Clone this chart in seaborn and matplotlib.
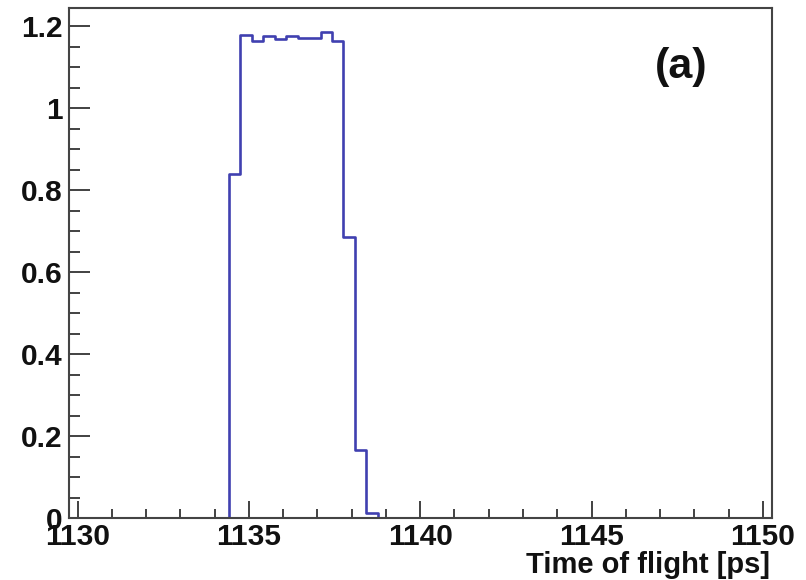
import numpy as np
import pandas as pd
import matplotlib
matplotlib.use("Agg")
import matplotlib.pyplot as plt
import seaborn as sns
from matplotlib.ticker import MultipleLocator, FuncFormatter

# bin edges (ps); a hair-thin empty bin at each end
# makes the outline drop to zero like the ROOT histogram does
tof_edges = [1134.41, 1134.42, 1134.75, 1135.09, 1135.42, 1135.76, 1136.09,
             1136.43, 1136.76, 1137.09, 1137.43, 1137.76, 1138.10, 1138.43,
             1138.77, 1138.78]
tof_counts = [0.840, 1.178, 1.164, 1.176, 1.168, 1.176, 1.170, 1.172,
              1.186, 1.164, 0.685, 0.165, 0.012]

x_ticks = [1130, 1135, 1140, 1145, 1150]
y_ticks = [0, 0.2, 0.4, 0.6, 0.8, 1.0, 1.2]

sns.set_style("ticks")
plt.rcParams["font.family"] = ["Liberation Sans", "DejaVu Sans"]
plt.rcParams["font.weight"] = "bold"

fig = plt.figure(figsize=(8.06, 5.8), dpi=100)
ax = fig.add_axes([0.0856, 0.1069, 0.958 - 0.0856, 0.986 - 0.1069])

# centres of the real bins carry the weights
edges = np.array(tof_edges)
df = pd.DataFrame({
    "tof": 0.5 * (edges[1:-2] + edges[2:-1]),
    "w": tof_counts,
})
sns.histplot(data=df, x="tof", weights="w", bins=list(tof_edges),
             element="step", fill=False, color="#4040b0", linewidth=1.9,
             ax=ax, legend=False)

ax.set_xlim(1129.75, 1150.27)
ax.set_ylim(0, 1.244)
ax.set_xticks(x_ticks)
ax.set_yticks(y_ticks)
ax.xaxis.set_minor_locator(MultipleLocator(1))
ax.yaxis.set_minor_locator(MultipleLocator(0.05))
ax.yaxis.set_major_formatter(FuncFormatter(lambda v, p: f"{v:g}"))

ax.tick_params(axis="both", which="both", direction="in", colors="#333333",
               width=1.3, labelcolor="#111111", labelsize=21.5)
ax.tick_params(axis="x", which="major", length=12, pad=3.5)
ax.tick_params(axis="x", which="minor", length=6.5)
ax.tick_params(axis="y", which="major", length=15, pad=4.5)
ax.tick_params(axis="y", which="minor", length=8)

for sp in ax.spines.values():
    sp.set_color("#444444")
    sp.set_linewidth(1.5)

ax.set_ylabel("")
ax.set_xlabel("Time of flight [ps]", fontsize=21, fontweight="bold",
              color="#111111")
ax.xaxis.set_label_coords(0.997, -0.108)
ax.xaxis.label.set_horizontalalignment("right")
ax.xaxis.label.set_verticalalignment("baseline")

ax.text(0.870, 0.884, "(a)", transform=ax.transAxes, fontsize=31,
        fontweight="bold", color="#111111", ha="center", va="center")

fig.savefig("out.png", dpi=100)
